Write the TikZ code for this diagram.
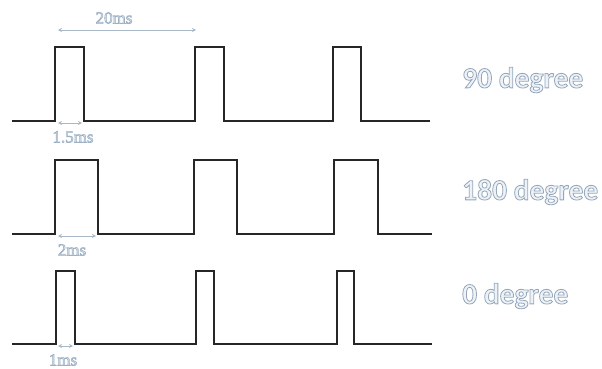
\documentclass[tikz,border=0pt]{standalone}
\usepackage{fontspec}
\setmainfont{Liberation Serif}
\newfontfamily\labfont{Carlito}
\usetikzlibrary{arrows.meta}
\definecolor{sig}{HTML}{262626}
\definecolor{dimc}{HTML}{A9B8C6}
\definecolor{labc}{HTML}{9AAABB}
\newcommand{\outl}[1]{\special{pdf:literal 2 Tr 0.8 w 0.58 0.65 0.73 RG 0.93 0.95 0.97 rg}#1\special{pdf:literal 0 Tr}}
\newcommand{\outls}[1]{\special{pdf:literal 2 Tr 0.6 w 0.62 0.69 0.77 RG 0.85 0.89 0.93 rg}#1\special{pdf:literal 0 Tr}}
\tikzset{
  signal/.style={line width=2.6pt, draw=sig, line join=miter},
  dimarrow/.style={draw=dimc, line width=0.7pt, {Stealth[length=4pt,width=4pt]}-{Stealth[length=4pt,width=4pt]}},
  small/.style={text=labc, font=\fontsize{17}{18}\selectfont, inner sep=0pt},
  deg/.style={text=labc, font=\labfont\fontsize{29.5}{32}\selectfont\bfseries, anchor=west, inner sep=0pt}
}
\begin{document}
\begin{tikzpicture}[x=1pt,y=-1pt]
\useasboundingbox (0,0) rectangle (602,368);
% row 1 (90 degree)
\draw[signal] (12,121) -- (55,121) -- (55,47) -- (84,47) -- (84,121) -- (195,121) -- (195,47) -- (224,47) -- (224,121) -- (333,121) -- (333,47) -- (361,47) -- (361,121) -- (430,121);
% row 2 (180 degree)
\draw[signal] (12,234) -- (55,234) -- (55,160) -- (98,160) -- (98,234) -- (194,234) -- (194,160) -- (237,160) -- (237,234) -- (334,234) -- (334,160) -- (378,160) -- (378,234) -- (432,234);
% row 3 (0 degree)
\draw[signal] (12,344) -- (56,344) -- (56,271) -- (75,271) -- (75,344) -- (196,344) -- (196,271) -- (214,271) -- (214,344) -- (337,344) -- (337,271) -- (354,271) -- (354,344) -- (432,344);
% dimension arrows
\coordinate (p1a) at (58,30); \coordinate (p1b) at (196,30);
\draw[dimarrow] (p1a) -- (p1b);
\node[small] (t20) at (114,18) {\outls{20ms}};
\coordinate (a1) at (58,123); \coordinate (a2) at (82,123);
\draw[dimarrow] (a1) -- (a2);
\node[small] (t15) at (73,137) {\outls{1.5ms}};
\coordinate (b1) at (58,236); \coordinate (b2) at (96,236);
\draw[dimarrow] (b1) -- (b2);
\node[small] (t2) at (72,250) {\outls{2ms}};
\coordinate (c1) at (58,346); \coordinate (c2) at (73,346);
\draw[dimarrow] (c1) -- (c2);
\node[small] (t1) at (63,360) {\outls{1ms}};
% degree labels
\node[deg] (d90) at (462,80) {\outl{90 degree}};
\node[deg] (d180) at (462,192) {\outl{180 degree}};
\node[deg] (d0) at (462,296) {\outl{0 degree}};
\end{tikzpicture}
\end{document}
